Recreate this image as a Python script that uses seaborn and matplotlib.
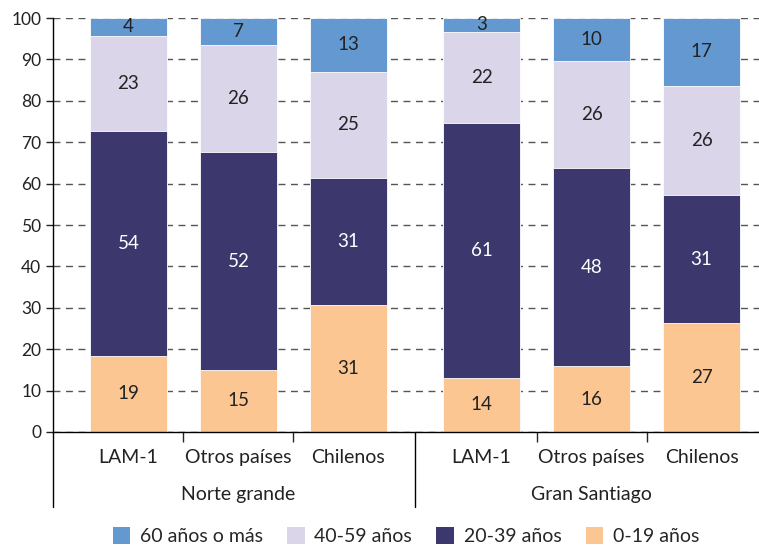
import pandas as pd
import matplotlib.pyplot as plt
from matplotlib.patches import Patch
import seaborn as sns

# data
groups = ["Norte grande", "Gran Santiago"]
categories = ["LAM-1", "Otros países", "Chilenos", "LAM-1", "Otros países", "Chilenos"]
age_0_19 = [18.4, 15.0, 30.6, 13.1, 15.9, 26.3]
age_20_39 = [54.3, 52.6, 30.8, 61.5, 47.9, 30.9]
age_40_59 = [23.0, 25.9, 25.6, 22.1, 25.8, 26.4]
age_60 = [4.3, 6.5, 13.0, 3.3, 10.4, 16.4]
lab_0_19 = ["19", "15", "31", "14", "16", "27"]
lab_20_39 = ["54", "52", "31", "61", "48", "31"]
lab_40_59 = ["23", "26", "25", "22", "26", "26"]
lab_60 = ["4", "7", "13", "3", "10", "17"]
series_names = ["60 años o más", "40-59 años", "20-39 años", "0-19 años"]

# layout
positions = [0, 1, 2, 3.21, 4.21, 5.21]
colors = {"60 años o más": "#6399d0", "40-59 años": "#dbd5ea",
          "20-39 años": "#3c386d", "0-19 años": "#fbc692"}

sns.set_theme(style="white")
plt.rcParams["font.family"] = ["Lato", "DejaVu Sans"]

df = pd.DataFrame({
    "pos": positions,
    "a": age_0_19,
    "b": age_20_39,
    "c": age_40_59,
    "d": age_60,
})
df["cum_a"] = df["a"]
df["cum_b"] = df["cum_a"] + df["b"]
df["cum_c"] = df["cum_b"] + df["c"]
df["cum_d"] = df["cum_c"] + df["d"]

fig = plt.figure(figsize=(7.59, 5.48), dpi=100)
ax = fig.add_axes([53 / 759, 1 - 432 / 548, 1 - 53 / 759, 414 / 548])

layers = [("cum_d", "60 años o más"), ("cum_c", "40-59 años"),
          ("cum_b", "20-39 años"), ("cum_a", "0-19 años")]
for col, name in layers:
    sns.barplot(data=df, x="pos", y=col, native_scale=True, width=0.7,
                color=colors[name], saturation=1, errorbar=None,
                edgecolor="white", linewidth=0.6, ax=ax)

# value labels
segs = [("a", "cum_a", lab_0_19, "#222222"), ("b", "cum_b", lab_20_39, "white"),
        ("c", "cum_c", lab_40_59, "#222222"), ("d", "cum_d", lab_60, "#222222")]
for val, cum, labs, tc in segs:
    for i in range(len(df)):
        y = df[cum][i] - df[val][i] / 2
        ax.text(df["pos"][i], y, labs[i], ha="center", va="center",
                fontsize=13.5, color=tc)

ax.set_ylim(0, 100)
ax.set_xlim(-0.686, 5.732)
ax.set_yticks(range(0, 101, 10))
ax.yaxis.grid(True, linestyle=(0, (5, 4)), color="#555555", linewidth=1)
ax.set_axisbelow(True)
ax.set_xlabel("")
ax.set_ylabel("")

for s in ["top", "right"]:
    ax.spines[s].set_visible(False)
ax.spines["left"].set_color("black")
ax.spines["bottom"].set_color("black")
ax.spines["left"].set_linewidth(1)
ax.spines["bottom"].set_linewidth(1)

ax.tick_params(axis="y", left=True, length=5, width=1, labelsize=12.5, colors="#222222")
ax.set_xticks([0.5, 1.5, 3.71, 4.71])
ax.set_xticklabels([])
ax.tick_params(axis="x", which="major", bottom=True, length=7, width=1, direction="out")
ax.set_xticks(positions, labels=categories, minor=True)
ax.tick_params(axis="x", which="minor", bottom=True, length=0, pad=12, labelsize=14,
               labelcolor="#222222")

# group labels and separators
sep = (positions[2] + positions[3]) / 2
trans = ax.get_xaxis_transform()
ax.plot([sep, sep], [0, -0.181], transform=trans, color="black", lw=1, clip_on=False)
ax.plot([-0.686, -0.686], [0, -0.181], transform=trans, color="black", lw=1, clip_on=False)
ax.text(positions[1], -0.151, groups[0], transform=trans, ha="center", va="center",
        fontsize=14, color="#222222")
ax.text(positions[4], -0.151, groups[1], transform=trans, ha="center", va="center",
        fontsize=14, color="#222222")

handles = [Patch(facecolor=colors[n], edgecolor="none", label=n) for n in series_names]
ax.legend(handles=handles, loc="center", bbox_to_anchor=(0.5, -0.252), ncol=4,
          frameon=False, fontsize=14, handlelength=0.9, handleheight=0.9,
          columnspacing=1.25, handletextpad=0.5)

fig.savefig("out.png", dpi=100)
